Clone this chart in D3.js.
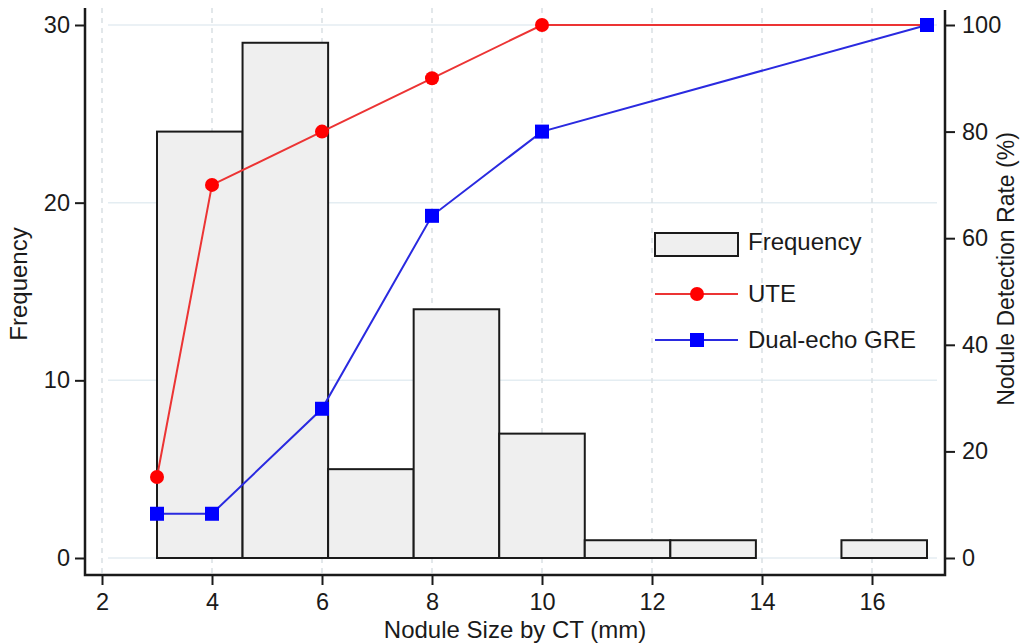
<!DOCTYPE html>
<html>
<head>
<meta charset="utf-8">
<script src="https://cdn.jsdelivr.net/npm/d3@7"></script>
<style>
  body { margin: 0; background: #fff; }
  svg { display: block; font-family: "Liberation Sans", Arial, sans-serif; }
</style>
</head>
<body>
<svg id="chart"></svg>
<script>
const width = 1021;
const height = 644;

// plot frame
const frameLeft = 85, frameRight = 945, frameTop = 8, frameBottom = 575;

// histogram: 9 bins from 3 to 17 mm
const binStart = 3;
const binEnd = 17;
const frequency = [24, 29, 5, 14, 7, 1, 1, 0, 1];

// detection rate curves
const uteSizes = [3, 4, 6, 8, 10, 17];
const uteRate = [15.2, 70, 80, 90, 100, 100];
const greSizes = [3, 4, 6, 8, 10, 17];
const greRate = [8.3, 8.3, 28, 64.2, 80, 100];

const xTicks = [2, 4, 6, 8, 10, 12, 14, 16];
const freqTicks = [0, 10, 20, 30];
const rateTicks = [0, 20, 40, 60, 80, 100];

const tickFont = 23.5;
const labelFont = 24;

const svg = d3.select('#chart')
    .attr('width', width)
    .attr('height', height);

const x = d3.scaleLinear().domain([2, 16]).range([102, 872]);
const yFreq = d3.scaleLinear().domain([0, 30]).range([558, 25]);
const yRate = d3.scaleLinear().domain([0, 100]).range([558, 25]);

const binWidth = (binEnd - binStart) / frequency.length;
const bins = frequency.map((f, i) => ({x0: binStart + i * binWidth, x1: binStart + (i + 1) * binWidth, f: f}));

// grid
svg.append('g').selectAll('line').data(freqTicks).enter().append('line')
    .attr('x1', 108).attr('x2', 937)
    .attr('y1', d => yFreq(d)).attr('y2', d => yFreq(d))
    .attr('stroke', '#e4edf2').attr('stroke-width', 1.5);

svg.append('g').selectAll('line').data(xTicks).enter().append('line')
    .attr('x1', d => x(d)).attr('x2', d => x(d))
    .attr('y1', frameTop).attr('y2', frameBottom)
    .attr('stroke', '#d9e0e4').attr('stroke-width', 1.5)
    .attr('stroke-dasharray', '5,5');

// bars
svg.append('g').selectAll('rect').data(bins.filter(d => d.f > 0)).enter().append('rect')
    .attr('x', d => x(d.x0))
    .attr('y', d => yFreq(d.f))
    .attr('width', d => x(d.x1) - x(d.x0))
    .attr('height', d => yFreq(0) - yFreq(d.f))
    .attr('fill', '#efefef')
    .attr('stroke', '#1a1a1a')
    .attr('stroke-width', 2);

// lines
const uteData = uteSizes.map((s, i) => [s, uteRate[i]]);
const greData = greSizes.map((s, i) => [s, greRate[i]]);
const line = d3.line().x(d => x(d[0])).y(d => yRate(d[1]));

svg.append('path').datum(uteData)
    .attr('d', line).attr('fill', 'none')
    .attr('stroke', '#ec3434').attr('stroke-width', 2);
svg.append('path').datum(greData)
    .attr('d', line).attr('fill', 'none')
    .attr('stroke', '#2a2ae0').attr('stroke-width', 2);

svg.append('g').selectAll('circle').data(uteData).enter().append('circle')
    .attr('cx', d => x(d[0])).attr('cy', d => yRate(d[1]))
    .attr('r', 7).attr('fill', '#ff0000');

svg.append('g').selectAll('rect').data(greData).enter().append('rect')
    .attr('x', d => x(d[0]) - 7).attr('y', d => yRate(d[1]) - 7)
    .attr('width', 14).attr('height', 14).attr('fill', '#0000ff');

// axes
const xAxis = svg.append('g').attr('transform', `translate(0, ${frameBottom})`)
    .call(d3.axisBottom(x).tickValues(xTicks).tickSize(10).tickPadding(8));
const yAxis = svg.append('g').attr('transform', `translate(${frameLeft}, 0)`)
    .call(d3.axisLeft(yFreq).tickValues(freqTicks).tickSize(10).tickPadding(5));
const rAxis = svg.append('g').attr('transform', `translate(${frameRight}, 0)`)
    .call(d3.axisRight(yRate).tickValues(rateTicks).tickSize(10).tickPadding(7));

[xAxis, yAxis, rAxis].forEach(a => {
    a.select('.domain').remove();
    a.selectAll('line').attr('stroke', '#1a1a1a').attr('stroke-width', 2);
    a.selectAll('text').attr('font-size', tickFont).attr('fill', '#1a1a1a')
        .attr('font-family', '"Liberation Sans", Arial, sans-serif');
});

svg.append('path')
    .attr('d', `M${frameLeft},${frameTop}V${frameBottom}H${frameRight}V10`)
    .attr('fill', 'none').attr('stroke', '#1a1a1a').attr('stroke-width', 2.5);

// titles
svg.append('text')
    .attr('x', (frameLeft + frameRight) / 2).attr('y', 638)
    .attr('text-anchor', 'middle').attr('font-size', labelFont).attr('fill', '#1a1a1a')
    .text('Nodule Size by CT (mm)');
svg.append('text')
    .attr('transform', `translate(27, 284) rotate(-90)`)
    .attr('text-anchor', 'middle').attr('font-size', labelFont).attr('fill', '#1a1a1a')
    .text('Frequency');
svg.append('text')
    .attr('transform', `translate(1014, 269) rotate(-90)`)
    .attr('text-anchor', 'middle').attr('font-size', 23).attr('fill', '#1a1a1a')
    .text('Nodule Detection Rate (%)');

// legend
const legend = svg.append('g').attr('transform', 'translate(655, 0)');
legend.append('rect')
    .attr('x', 0).attr('y', 233).attr('width', 83).attr('height', 23)
    .attr('fill', '#efefef').attr('stroke', '#1a1a1a').attr('stroke-width', 2);
legend.append('line').attr('x1', 0).attr('x2', 83).attr('y1', 294).attr('y2', 294)
    .attr('stroke', '#ec3434').attr('stroke-width', 2);
legend.append('circle').attr('cx', 42).attr('cy', 294).attr('r', 7).attr('fill', '#ff0000');
legend.append('line').attr('x1', 0).attr('x2', 83).attr('y1', 340).attr('y2', 340)
    .attr('stroke', '#2a2ae0').attr('stroke-width', 2);
legend.append('rect').attr('x', 35).attr('y', 333).attr('width', 14).attr('height', 14).attr('fill', '#0000ff');

const legendLabels = ['Frequency', 'UTE', 'Dual-echo GRE'];
const legendY = [242, 294, 340];
legend.selectAll('text.lab').data(legendLabels).enter().append('text')
    .attr('class', 'lab')
    .attr('x', 93).attr('y', (d, i) => legendY[i])
    .attr('dy', '0.35em')
    .attr('font-size', labelFont).attr('fill', '#1a1a1a')
    .text(d => d);
</script>
</body>
</html>
